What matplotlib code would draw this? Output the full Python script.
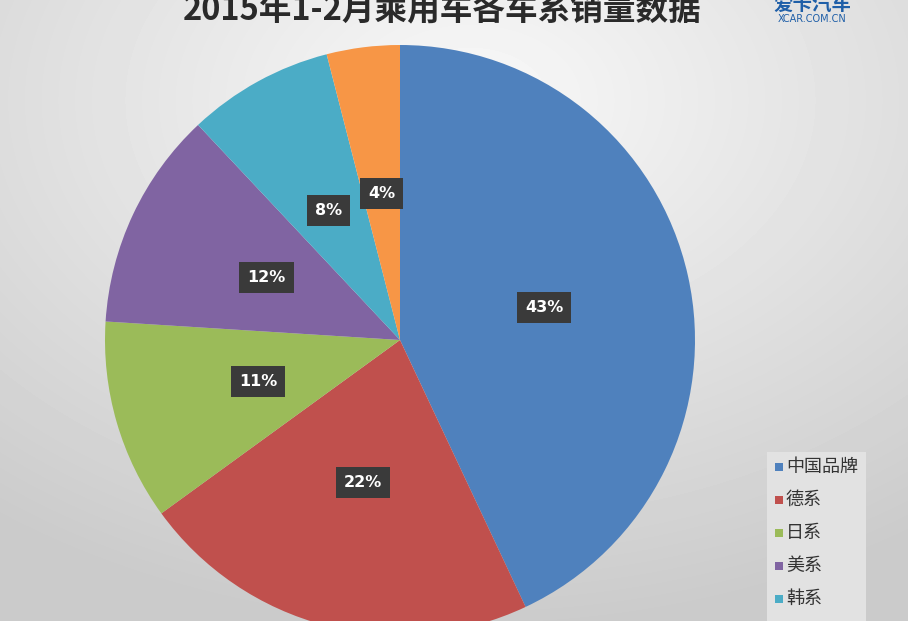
import numpy as np
import matplotlib.pyplot as plt

plt.rcParams['font.family'] = ['Noto Sans CJK SC', 'DejaVu Sans']

# data
brands = ['中国品牌', '德系', '日系', '美系', '韩系', '其他']
shares = [43, 22, 11, 12, 8, 4]
colors = ['#4f81bd', '#c0504d', '#9bbb59', '#8064a2', '#4bacc6', '#f79646']
title = '2015年1-2月乘用车各车系销量数据'

W, H = 908, 621
fig = plt.figure(figsize=(W / 100, H / 100), dpi=100)

# radial grey background
bg = fig.add_axes([0, 0, 1, 1])
yy, xx = np.mgrid[0:H, 0:W]
d = np.hypot((xx - 470) / W, (yy - 100) / H)
shade = 0.975 - 0.18 * np.clip(d / 0.85, 0, 1)
bg.imshow(shade, cmap='gray', vmin=0, vmax=1, aspect='auto', extent=[0, W, H, 0])
bg.set_xlim(0, W)
bg.set_ylim(H, 0)
bg.axis('off')

# pie axes: centre (400, 340), radius 295 px
cx, cy, r = 400, 340, 295
ax = fig.add_axes([(cx - r) / W, (H - cy - r) / H, 2 * r / W, 2 * r / H])
wedges, texts, autotexts = ax.pie(
    shares, colors=colors, startangle=90, counterclock=False,
    autopct='%d%%', pctdistance=0.5, radius=1,
    wedgeprops=dict(linewidth=0),
    textprops=dict(color='white', fontsize=11.5, fontweight='bold', family='DejaVu Sans'))
for t in autotexts:
    t.set_bbox(dict(boxstyle='square,pad=0.5', facecolor='#3a3a3a', edgecolor='none'))
ax.set_xlim(-1, 1)
ax.set_ylim(-1, 1)
ax.set_aspect('auto')
ax.axis('off')

# title (cut at the top in the original)
fig.text(442 / W, 1 - 11 / H, title, ha='center', va='center',
         fontsize=23.5, fontweight='bold', color='#2a2a2a')

# logo
fig.text(812 / W, 1 - 4 / H, '爱卡汽车', ha='center', va='center',
         fontsize=14, fontweight='heavy', color='#1f5fa8')
fig.text(812 / W, 1 - 19 / H, 'XCAR.COM.CN', ha='center', va='center',
         fontsize=7, color='#1f5fa8', family='DejaVu Sans')

# legend
lax = fig.add_axes([767 / W, 0, 99 / W, (H - 452) / H])
lax.set_xlim(0, 99)
lax.set_ylim(H - 452, 0)
lax.add_patch(plt.Rectangle((0, 0), 99, H - 452, facecolor='#e2e2e2', edgecolor='none'))
for i, (b, c) in enumerate(zip(brands, colors)):
    yc = 15 + 33 * i
    lax.add_patch(plt.Rectangle((8, yc - 4), 8, 8, facecolor=c, edgecolor='none'))
    lax.text(19, yc, b, ha='left', va='center', fontsize=13, color='#333333')
lax.axis('off')

fig.savefig('out.png', dpi=100)
